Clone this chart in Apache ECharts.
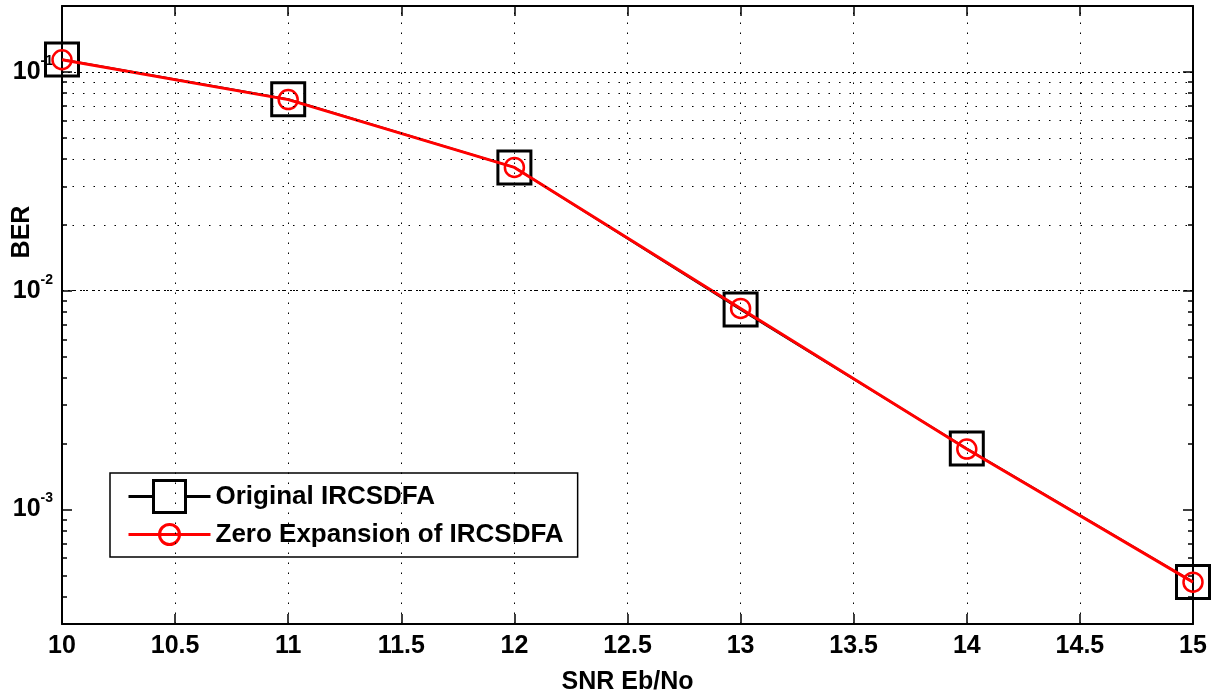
<!DOCTYPE html>
<html>
<head>
<meta charset="utf-8">
<script src="https://cdn.jsdelivr.net/npm/echarts@6/dist/echarts.min.js"></script>
<style>
html,body{margin:0;padding:0;background:#fff;}
#chart{width:1212px;height:696px;}
</style>
</head>
<body>
<div id="chart"></div>
<script>
// ---- data ----
var snr = [10, 11, 12, 13, 14, 15];
var berOriginal = [0.1138, 0.0750, 0.0366, 0.0082, 0.00190, 0.000467];
var berZeroExp  = [0.1136, 0.0747, 0.0366, 0.0083, 0.00189, 0.000466];
var seriesNames = ['Original IRCSDFA', 'Zero Expansion of IRCSDFA'];
var xTickValues = [10, 10.5, 11, 11.5, 12, 12.5, 13, 13.5, 14, 14.5, 15];
var xGridValues = [10.5, 11, 11.5, 12, 12.5, 13, 13.5, 14, 14.5];
var yDecadeValues = [0.001, 0.01, 0.1];
var yDecadeExps = ['-3', '-2', '-1'];
var yMinorValues = [0.0004, 0.0005, 0.0006, 0.0007, 0.0008, 0.0009,
                    0.002, 0.003, 0.004, 0.005, 0.006, 0.007, 0.008, 0.009,
                    0.02, 0.03, 0.04, 0.05, 0.06, 0.07, 0.08, 0.09];
var xLabel = 'SNR Eb/No';
var yLabel = 'BER';

var FONT = '"Liberation Sans", Arial, sans-serif';
var LFONT = '"Liberation Sans", Arial, sans-serif';

function pairs(xs, ys) { return xs.map(function (x, i) { return [x, ys[i]]; }); }

var gridLines = [];
yMinorValues.forEach(function (v) {
  gridLines.push({ yAxis: v, lineStyle: { color: '#000', width: 1, type: [1.5, 9] } });
});
yDecadeValues.forEach(function (v) {
  gridLines.push({ yAxis: v, lineStyle: { color: '#000', width: 1, type: [2, 4] } });
});
xGridValues.forEach(function (v) {
  gridLines.push({ xAxis: v, lineStyle: { color: '#000', width: 1, type: [1.5, 8.5] } });
});

var yMin = 3e-4, yMax = 0.2;
function logAxis(pos, tickVals, tickLen, showLine, showLabel) {
  return {
    type: 'log', logBase: 10, min: yMin, max: yMax, position: pos,
    axisLine: { show: showLine, lineStyle: { color: '#000', width: 2 } },
    axisTick: { show: true, inside: true, length: tickLen, customValues: tickVals,
                lineStyle: { color: '#000', width: 1.5 } },
    axisLabel: showLabel ? {
      show: true, margin: 9, customValues: yDecadeValues,
      formatter: function (v) {
        var i = yDecadeValues.findIndex(function (d) { return Math.abs(d - v) / d < 1e-6; });
        return '{b|10}{s|' + (i >= 0 ? yDecadeExps[i] : '') + '}';
      },
      rich: {
        b: { fontSize: 25, fontWeight: 'bold', fontFamily: FONT, color: '#000', lineHeight: 36, verticalAlign: 'middle' },
        s: { fontSize: 14, fontWeight: 'bold', fontFamily: FONT, color: '#000', verticalAlign: 'top' }
      }
    } : { show: false },
    splitLine: { show: false }
  };
}

var chart = echarts.init(document.getElementById('chart'), null, { renderer: 'canvas' });
chart.setOption({
  animation: false,
  backgroundColor: '#fff',
  grid: { left: 62, right: 19, top: 6, bottom: 72, containLabel: false, outerBoundsMode: 'none' },
  xAxis: [
    {
      type: 'value', min: 10, max: 15, interval: 0.5, position: 'bottom',
      name: xLabel, nameLocation: 'middle', nameGap: 46,
      nameTextStyle: { fontSize: 25, fontWeight: 'bold', fontFamily: FONT, color: '#000' },
      axisLine: { show: true, lineStyle: { color: '#000', width: 2 } },
      axisTick: { show: true, inside: true, length: 10, lineStyle: { color: '#000', width: 1.5 } },
      axisLabel: { show: true, margin: 10, fontSize: 25, fontWeight: 'bold', fontFamily: FONT, color: '#000',
                   customValues: xTickValues },
      splitLine: { show: false }
    },
    {
      type: 'value', min: 10, max: 15, interval: 0.5, position: 'top',
      axisLine: { show: true, lineStyle: { color: '#000', width: 2 } },
      axisTick: { show: true, inside: true, length: 10, lineStyle: { color: '#000', width: 1.5 } },
      axisLabel: { show: false },
      splitLine: { show: false }
    }
  ],
  yAxis: [
    logAxis('left', yMinorValues.concat(yDecadeValues), 5, true, true),
    logAxis('left', yDecadeValues, 10, false, false),
    logAxis('right', yMinorValues.concat(yDecadeValues), 5, true, false),
    logAxis('right', yDecadeValues, 10, false, false)
  ],
  legend: {
    left: 110, top: 473, orient: 'vertical',
    itemWidth: 82, itemHeight: 32, itemGap: 1, itemTextGap: 5,
    padding: [5, 14, 4, 16],
    borderColor: '#000', borderWidth: 1.5, backgroundColor: '#fff',
    textStyle: { fontSize: 26, fontWeight: 'bold', fontFamily: LFONT, color: '#000' },
    selectedMode: false,
    data: [
      { name: seriesNames[0],
        icon: 'path://M0,20 L25,20 M25,4 L57,4 L57,36 L25,36 Z M57,20 L82,20',
        itemStyle: { color: 'none', borderColor: '#000', borderWidth: 3 } },
      { name: seriesNames[1],
        icon: 'path://M0,4 M0,36 M0,20 L31,20 M51,20 A10,10 0 1,1 31,20 A10,10 0 1,1 51,20 M31,20 L51,20 M51,20 L82,20',
        itemStyle: { color: 'none', borderColor: '#ff0000', borderWidth: 3 } }
    ]
  },
  graphic: [{
    type: 'text', x: 22, y: 232, rotation: Math.PI / 2,
    style: { text: yLabel, fontSize: 25, fontWeight: 'bold', fontFamily: FONT, fill: '#000',
             align: 'center', verticalAlign: 'middle' }
  }],
  series: [
    {
      name: 'grid', type: 'line', data: [], z: 1, silent: true,
      markLine: { silent: true, symbol: 'none', animation: false, label: { show: false },
                  emphasis: { disabled: true }, data: gridLines }
    },
    {
      name: seriesNames[0], type: 'line', z: 3,
      data: pairs(snr, berOriginal),
      symbol: 'rect', symbolSize: 33, showAllSymbol: true,
      lineStyle: { color: '#000', width: 2 },
      itemStyle: { color: 'rgba(0,0,0,0)', borderColor: '#000', borderWidth: 3 },
      emphasis: { disabled: true }
    },
    {
      name: seriesNames[1], type: 'line', z: 4,
      data: pairs(snr, berZeroExp),
      symbol: 'circle', symbolSize: 19, showAllSymbol: true,
      lineStyle: { color: '#ff0000', width: 3 },
      itemStyle: { color: 'rgba(0,0,0,0)', borderColor: '#ff0000', borderWidth: 2.5 },
      emphasis: { disabled: true }
    }
  ]
});
</script>
</body>
</html>
